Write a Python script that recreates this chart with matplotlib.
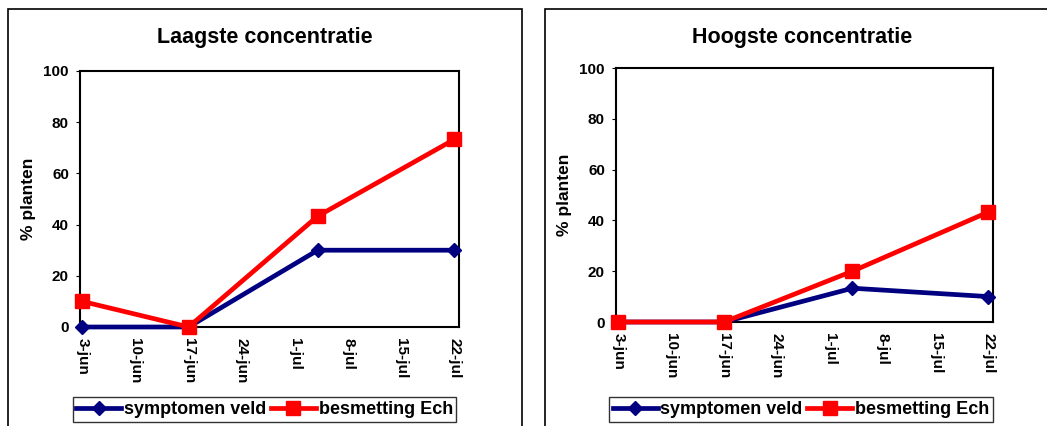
import matplotlib
matplotlib.use("Agg")
import matplotlib.pyplot as plt
import numpy as np
import pandas as pd
from matplotlib.patches import Rectangle

plt.rcParams["font.family"] = ["Liberation Sans", "DejaVu Sans"]
plt.rcParams["font.weight"] = "bold"

# data
meet_data = ["2003-06-03", "2003-06-17", "2003-07-04", "2003-07-22"]
tick_data = ["2003-06-03", "2003-06-10", "2003-06-17", "2003-06-24",
             "2003-07-01", "2003-07-08", "2003-07-15", "2003-07-22"]
tick_labels = ["3-jun", "10-jun", "17-jun", "24-jun", "1-jul", "8-jul", "15-jul", "22-jul"]

titels = ["Laagste concentratie", "Hoogste concentratie"]
symptomen_laag = [0, 0, 30, 30]
besmetting_laag = [10, 0, 43.3, 73.3]
symptomen_hoog = [0, 0, 13.3, 10]
besmetting_hoog = [0, 0, 20, 43.3]

NAVY = "#000080"
RED = "#FF0000"

W, H = 1047, 426
fig = plt.figure(figsize=(W / 100, H / 100), dpi=100)

start = pd.Timestamp(meet_data[0])
x_meet = [(pd.Timestamp(d) - start).days for d in meet_data]
x_ticks = [(pd.Timestamp(d) - start).days for d in tick_data]


def px_axes(left, top, right, bottom):
    return fig.add_axes([left / W, 1 - bottom / H, (right - left) / W, (bottom - top) / H])


def draw_panel(box, ax_box, leg_box, titel, symp, besm):
    bl, bt, br = box
    fig.patches.append(Rectangle((bl / W, -0.1), (br - bl) / W, 1.1 - bt / H,
                                 transform=fig.transFigure, fill=False,
                                 edgecolor="black", linewidth=1.2))
    fig.text((bl + br) / 2 / W, 1 - 37 / H, titel, ha="center", va="center",
             fontsize=15.5, fontweight="bold")

    ax = px_axes(*ax_box)
    l1, = ax.plot(x_meet, symp, color=NAVY, lw=3.4, marker="D", ms=7.5,
                  mec=NAVY, mfc=NAVY, zorder=3)
    l2, = ax.plot(x_meet, besm, color=RED, lw=3.4, marker="s", ms=10,
                  mec=RED, mfc=RED, zorder=4)
    ax.set_xlim(-0.3, 49.6)
    ax.set_ylim(0, 100)
    ax.set_yticks(np.arange(0, 101, 20))
    ax.set_xticks(x_ticks)
    ax.set_xticklabels(tick_labels, rotation=-90, fontsize=11, fontweight="bold")
    ax.tick_params(axis="x", length=0, pad=8)
    ax.tick_params(axis="y", length=3, labelsize=11, pad=5)
    for lab in ax.get_yticklabels():
        lab.set_fontweight("bold")
    for sp in ax.spines.values():
        sp.set_linewidth(1.5)
    ax.set_ylabel("% planten", fontsize=12.5, fontweight="bold", labelpad=5)
    for artist in (l1, l2):
        artist.set_clip_on(False)

    ll, lt, lr, lb = leg_box
    fig.legend([l1, l2], ["symptomen veld", "besmetting Ech"],
               loc="center", bbox_to_anchor=((ll + lr) / 2 / W, 1 - (lt + lb) / 2 / H),
               ncol=2, frameon=True, fancybox=False, edgecolor="black",
               handlelength=2.5, handletextpad=0.15, columnspacing=0.25,
               borderpad=0.2, borderaxespad=0, prop={"weight": "bold", "size": 13}
               ).get_frame().set_linewidth(1.0)


draw_panel((8, 9, 522), (80, 71, 459, 327), (71, 396, 458, 423),
           titels[0], symptomen_laag, besmetting_laag)
draw_panel((545, 9, 1060), (616, 68, 993, 322), (609, 396, 993, 423),
           titels[1], symptomen_hoog, besmetting_hoog)

fig.savefig("out.png", dpi=100)
